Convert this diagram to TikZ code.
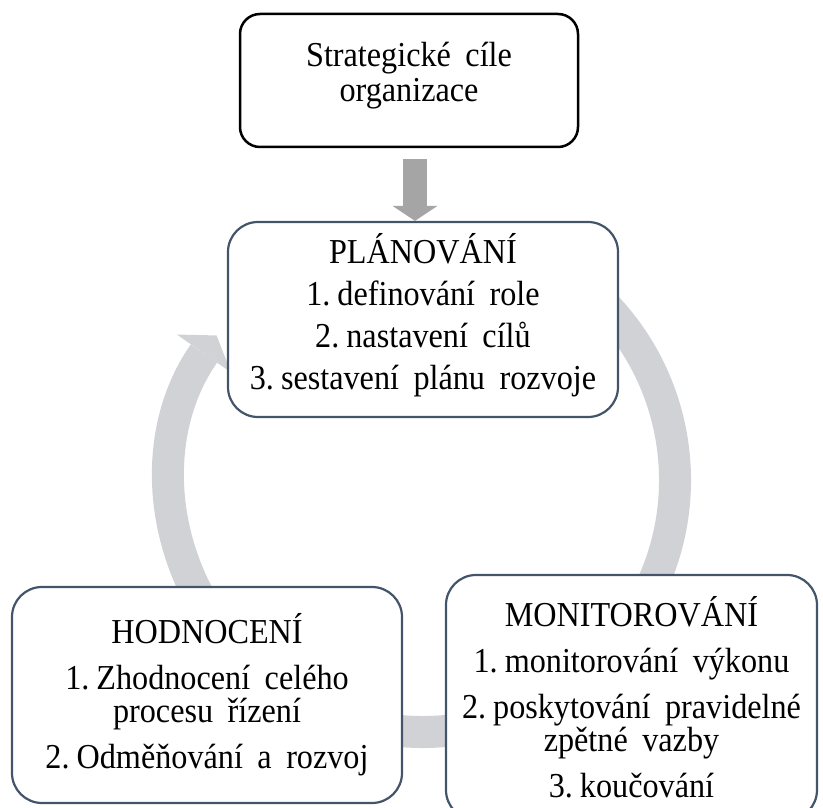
\documentclass[tikz,border=0pt]{standalone}
\usepackage{fontspec}
\setmainfont{Liberation Serif}[FakeStretch=0.92,WordSpace=1.8]
\usepackage{tikz}
\usetikzlibrary{arrows.meta,backgrounds}

\definecolor{boxline}{HTML}{44546A}
\definecolor{ringgray}{RGB}{208,210,214}
\definecolor{arrowgray}{HTML}{A5A5A5}
\newcommand{\boxfont}{\fontsize{35}{33}\selectfont}
\newcommand{\stepno}[1]{#1.\hspace{7pt}}

\begin{document}
\begin{tikzpicture}[x=1pt,y=1pt,
		box/.style={draw=boxline,fill=white,line width=2.2pt,rounded corners=30pt,align=center,inner sep=0pt,font=\boxfont},
		ring/.style={draw=ringgray,line width=32pt,-{Triangle[width=66pt,length=22pt,line width=0pt]}}]
		\clip (0,0) rectangle (823,807);
		\node[box,draw=black,line width=2.5pt,rounded corners=20pt,minimum width=338pt,minimum height=133pt,text depth=17pt] (strat) at (409,726.5) {Strategické cíle\\[2pt]organizace};
		\node[box,minimum width=390pt,minimum height=195pt,text depth=17pt] (plan) at (423,487.5) {PLÁNOVÁNÍ\\[9pt]\stepno{1}definování role\\[9pt]\stepno{2}nastavení cílů\\[9pt]\stepno{3}sestavení plánu rozvoje};
		\node[box,minimum width=390pt,minimum height=216pt] (hodn) at (207,112) {HODNOCENÍ\\[13pt]\stepno{1}Zhodnocení celého\\procesu řízení\\[13pt]\stepno{2}Odměňování a rozvoj};
		\node[box,minimum width=371pt,minimum height=245pt] (monit) at (631.5,109.5) {MONITOROVÁNÍ\\[13pt]\stepno{1}monitorování výkonu\\[13pt]\stepno{2}poskytování pravidelné\\zpětné vazby\\[13pt]\stepno{3}koučování};
		\begin{scope}[on background layer]
		\coordinate (cyc) at (423,327);
		\draw[ring] ([shift={(55:252)}]cyc) arc[start angle=55,end angle=-215,radius=252];
		\draw[arrowgray,line width=24pt,-{Triangle[width=45pt,length=15pt,line width=0pt]}] ([xshift=6pt,yshift=-11pt]strat.south) -- ([xshift=-8pt]plan.north);
		\end{scope}
\end{tikzpicture}
\end{document}
